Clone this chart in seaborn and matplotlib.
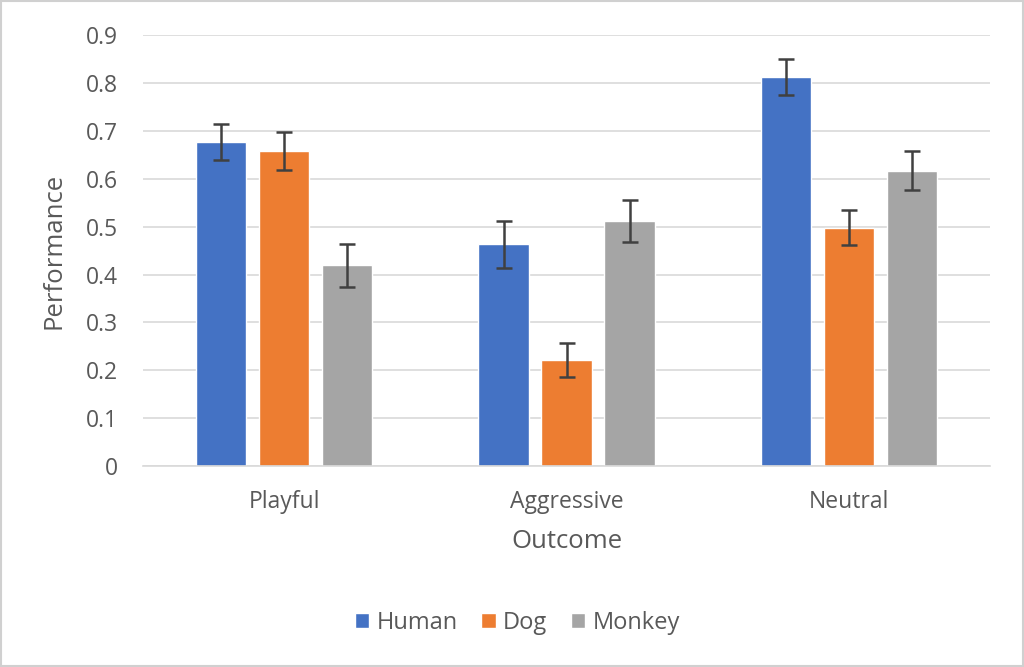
#!/usr/bin/env python3

from matplotlib import pyplot as plt
from matplotlib.patches import Rectangle
from matplotlib.ticker import FuncFormatter
import pandas as pd
import seaborn as sns

outcomes = ["Playful", "Aggressive", "Neutral"]
groups = ["Human", "Dog", "Monkey"]
human = [0.677, 0.463, 0.812]
dog = [0.658, 0.222, 0.498]
monkey = [0.419, 0.512, 0.617]
human_err = [0.037, 0.049, 0.038]
dog_err = [0.040, 0.035, 0.037]
monkey_err = [0.045, 0.044, 0.041]

colors = ["#4472C4", "#ED7D31", "#A5A5A5"]
text_color = "#595959"


def main():
    rows = []
    for g, vals, errs in zip(groups, [human, dog, monkey],
                             [human_err, dog_err, monkey_err]):
        for o, v, e in zip(outcomes, vals, errs):
            rows.append({"Outcome": o, "Group": g, "Performance": v, "err": e})
    df = pd.DataFrame(rows)

    sns.set_theme(style="white")
    plt.rcParams["font.family"] = ["Open Sans", "DejaVu Sans"]

    fig = plt.figure(figsize=(10.24, 6.67), dpi=100)
    ax = fig.add_axes([0.1396, 0.301, 0.8275, 0.6465])

    sns.barplot(
            data=df, x="Outcome", y="Performance", hue="Group",
            order=outcomes, hue_order=groups, palette=colors, saturation=1,
            width=0.67, gap=0.2, errorbar=None, ax=ax, legend=True,
            )

    # Error bars placed at the bar centres drawn by seaborn
    for container, g in zip(ax.containers, groups):
        sub = df[df["Group"] == g].set_index("Outcome").loc[outcomes]
        xs = [p.get_x() + p.get_width() / 2 for p in container.patches]
        ax.errorbar(
                xs, sub["Performance"], yerr=sub["err"], fmt="none",
                ecolor="#404040", elinewidth=1.8, capsize=6, capthick=1.8,
                zorder=5,
                )

    ax.set_ylim(0, 0.9)
    ax.set_xlim(-0.5, 2.5)
    ax.set_yticks([i / 10 for i in range(10)])
    ax.yaxis.set_major_formatter(
            FuncFormatter(lambda v, _: "0" if v == 0 else f"{v:.1f}"))
    ax.grid(axis="y", color="#d9d9d9", linewidth=1.2)
    ax.set_axisbelow(True)
    for s in ["top", "right", "left"]:
        ax.spines[s].set_visible(False)
    ax.spines["bottom"].set_color("#d9d9d9")
    ax.spines["bottom"].set_linewidth(1.2)
    ax.tick_params(axis="y", length=0, labelsize=16.5, colors=text_color,
                   pad=18)
    ax.tick_params(axis="x", length=0, labelsize=16.5, colors=text_color,
                   pad=17)
    ax.set_xlabel("Outcome", fontsize=18.5, color=text_color, labelpad=11)
    ax.set_ylabel("Performance", fontsize=18.5, color=text_color, labelpad=14)

    handles, labels = ax.get_legend_handles_labels()
    ax.legend_.remove()
    fig.legend(
            handles, labels, loc="center", bbox_to_anchor=(0.505, 0.066),
            ncol=3, frameon=False, fontsize=17, labelcolor=text_color,
            handlelength=0.62, handleheight=0.62, handletextpad=0.3,
            columnspacing=1.0,
            )

    fig.patches.append(Rectangle(
            (0.001, 0.0015), 0.998, 0.997, transform=fig.transFigure,
            fill=False, edgecolor="#d0d0d0", linewidth=1.5))

    plt.savefig("out.png", dpi=100)


if __name__ == "__main__":
    main()
